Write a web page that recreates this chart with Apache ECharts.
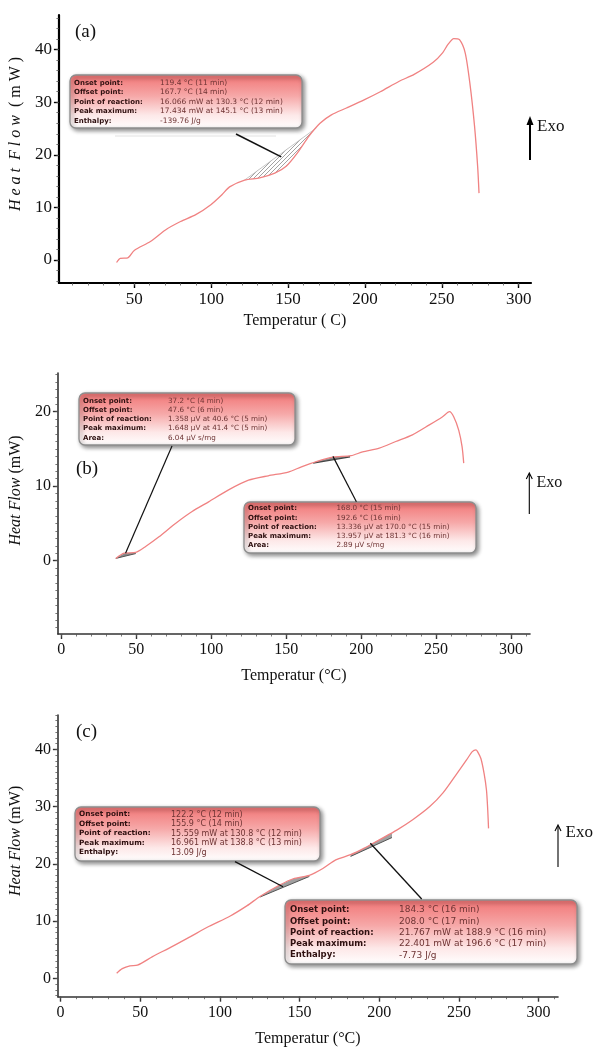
<!DOCTYPE html>
<html><head><meta charset="utf-8">
<script src="https://cdn.jsdelivr.net/npm/echarts@6/dist/echarts.min.js"></script>
<style>html,body{margin:0;padding:0;background:#fff}#c{width:595px;height:1050px}</style>
</head><body><div id="c"></div><script>
// ---------------- DATA ----------------
const tempA = [38.5,40.9,45.8,50,60.5,70.3,80.1,90,99.8,107,112,121.8,131.6,141.4,148.8,156,163.5,170.8,178.2,188,199.8,210,222.3,232,244.4,250.5,254,257.8,261.5,265.2,268.3,271.3,273.3,274.2];
const heatA = [-0.5,0.3,0.4,1.8,3.5,5.7,7.3,8.6,10.5,12.4,13.9,15.2,15.6,16.5,17.8,20.3,23.5,26,27.6,28.9,30.5,32,34,35.3,37.6,39.4,41.0,42.1,41.9,39.4,33.5,25.4,17.8,12.7];

const tempB = [36.4,42.0,49.7,56.3,65.2,76.2,87.3,98.3,111.6,124.9,138.1,151.4,160.2,170.1,181.2,193.3,201,212.1,223.1,234.2,245.2,254.1,258.9,261.8,265.1,267.3,268.4];
const heatB = [0.3,1.0,1.1,1.9,3.2,5.0,6.6,7.9,9.5,10.8,11.4,11.9,12.6,13.3,13.9,14.1,14.6,15.1,16.0,16.9,18.2,19.3,20.0,19.3,17.5,15.3,13.1];

const tempC = [35.2,38.7,43.5,48.2,57.7,69.6,81.5,93.3,106.5,117.1,125.1,137.5,146,156.1,164.6,172.7,182,190.3,200,211,221,231.7,240,248.3,254.9,258.4,260.7,261.7,263.8,265.8,267.3,268.1,268.6];
const heatC = [0.9,1.7,2.2,2.3,3.8,5.5,7.3,9.1,10.9,12.7,14.3,16.3,17.4,18.0,19.2,20.7,21.6,22.7,24.2,25.9,27.7,30.0,32.4,35.6,38.2,39.6,39.9,39.6,38.4,35.8,32.9,29.4,26.2];

// tick labels
const xTicksA = [50,100,150,200,250,300];
const xTicksBC = [0,50,100,150,200,250,300];
const yTicksA = [0,10,20,30,40];
const yTicksB = [0,10,20];
const yTicksC = [0,10,20,30,40];

// baselines of the integrated events [x0,y0,x1,y1]
const baseA = [121.8,15.2,168.4,25.1];
const baseB1 = [36.4,0.3,49.7,0.95];
const baseB2 = [168.0,13.1,192.6,13.95];
const baseC1 = [125.1,14.2,156.1,17.8];
const baseC2 = [182.0,21.3,208.0,24.6];

// leader targets (peak maxima, data units)
const peakA = [145.6,19.6];
const peakB1 = [42.9,1.0];
const peakB2 = [181.2,14.0];
const peakC1 = [139.6,16.0];
const peakC2 = [194.4,23.6];

// annotation texts
const boxLabelsH = ['Onset point:','Offset point:','Point of reaction:','Peak maximum:','Enthalpy:'];
const boxLabelsA2 = ['Onset point:','Offset point:','Point of reaction:','Peak maximum:','Area:'];
const boxValsA = ['119.4 °C (11 min)','167.7 °C (14 min)','16.066 mW at 130.3 °C (12 min)','17.434 mW at 145.1 °C (13 min)','-139.76 J/g'];
const boxValsB1 = ['37.2 °C (4 min)','47.6 °C (6 min)','1.358 µV at 40.6 °C (5 min)','1.648 µV at 41.4 °C (5 min)','6.04 µV s/mg'];
const boxValsB2 = ['168.0 °C (15 min)','192.6 °C (16 min)','13.336 µV at 170.0 °C (15 min)','13.957 µV at 181.3 °C (16 min)','2.89 µV s/mg'];
const boxValsC1 = ['122.2 °C (12 min)','155.9 °C (14 min)','15.559 mW at 130.8 °C (12 min)','16.961 mW at 138.8 °C (13 min)','13.09 J/g'];
const boxValsC2 = ['184.3 °C (16 min)','208.0 °C (17 min)','21.767 mW at 188.9 °C (16 min)','22.401 mW at 196.6 °C (17 min)','-7.73 J/g'];

// ---------------- CHART ----------------
const SERIF = '"Liberation Serif","DejaVu Serif",serif';
const SANS = '"DejaVu Sans",Verdana,sans-serif';
const CURVE = '#f08282';

function zip(a,b){return a.map((v,i)=>[v,b[i]]);}
function interp(xs,ys,x){
  for(let i=0;i<xs.length-1;i++){ if(x>=xs[i]&&x<=xs[i+1]){const t=(x-xs[i])/(xs[i+1]-xs[i]);return ys[i]+t*(ys[i+1]-ys[i]);} }
  return ys[ys.length-1];
}
function range(a,b,s){const r=[];for(let v=a;v<=b+1e-9;v+=s)r.push(+v.toFixed(3));return r;}

// hatch pattern
const pc=document.createElement('canvas');pc.width=4;pc.height=4;
const pctx=pc.getContext('2d');pctx.strokeStyle='#8a8a8a';pctx.lineWidth=0.8;
pctx.beginPath();pctx.moveTo(0,4);pctx.lineTo(4,0);pctx.moveTo(-1,1);pctx.lineTo(1,-1);pctx.moveTo(3,5);pctx.lineTo(5,3);pctx.stroke();

const grids=[
  {left:55,top:15,width:476,height:268},
  {left:55,top:373,width:475,height:261},
  {left:52.6,top:715,width:505.4,height:281.7}
];

function mainX(gi,min,max,ticks,name,gap,strong,fs){
  return {gridIndex:gi,type:'value',min,max,position:'bottom',
    axisLine:{onZero:false,lineStyle:{color:strong?'#000':'#333',width:strong?2.2:1.6}},
    splitLine:{show:false},
    axisTick:{customValues:ticks,length:5,lineStyle:{color:strong?'#000':'#333',width:1.4}},
    axisLabel:{customValues:ticks,fontFamily:SERIF,fontSize:fs,color:'#111',margin:8},
    name,nameLocation:'middle',nameGap:gap,nameTextStyle:{fontFamily:SERIF,fontSize:16,color:'#111'}};
}
function mainY(gi,min,max,ticks,name,gap,strong,fs,shift){
  return {gridIndex:gi,type:'value',min,max,position:'left',
    axisLine:{onZero:false,lineStyle:{color:strong?'#000':'#333',width:strong?2.2:1.6}},
    splitLine:{show:false},
    axisTick:{customValues:ticks,length:5,lineStyle:{color:strong?'#000':'#333',width:1.4}},
    axisLabel:{customValues:ticks,fontFamily:SERIF,fontSize:fs,color:'#111',margin:7},
    name,nameLocation:'middle',nameGap:gap,nameRotate:90,
    nameTextStyle:{fontFamily:SERIF,fontSize:16,color:'#111',padding:[0,0,0,shift],rich:{i:{fontFamily:SERIF,fontSize:16,fontStyle:'italic',color:'#111'}}}};
}
function minorAxis(gi,min,max,ticks,pos){
  return {gridIndex:gi,type:'value',min,max,position:pos,
    axisLine:{show:false,onZero:false},splitLine:{show:false},axisLabel:{show:false},
    axisTick:{customValues:ticks,length:2.5,lineStyle:{color:'#555',width:0.8}}};
}

const xAxes=[
  mainX(0,1,308,xTicksA,'Temperatur ( C)',30,true,17),
  mainX(1,-2.2,312.6,xTicksBC,'Temperatur (°C)',34,false,16),
  mainX(2,-1.7,312.2,xTicksBC,'Temperatur (°C)',34,false,16),
  minorAxis(0,1,308,range(10,300,10),'bottom'),
  minorAxis(1,-2.2,312.6,range(0,310,10),'bottom'),
  minorAxis(2,-1.7,312.2,range(0,310,10),'bottom')
];
const yAxes=[
  mainY(0,-4.4,46.6,yTicksA,'{i|H e a t  F l o w}  ( m W )',16,true,17,30),
  mainY(1,-9.85,25.2,yTicksB,'{i|Heat Flow} (mW)',14,false,16,26),
  mainY(2,-3.2,46.0,yTicksC,'{i|Heat Flow} (mW)',22,false,16,30),
  minorAxis(0,-4.4,46.6,range(-4,46,2),'left'),
  minorAxis(1,-9.85,25.2,range(-9,25,1),'left'),
  minorAxis(2,-3.2,46.0,range(-3,46,1),'left')
];

function lensSeries(gi,xs,ys,base,fill,stroke,strokeW){
  return {type:'custom',xAxisIndex:gi,yAxisIndex:gi,silent:true,z:1,clip:true,
    data:[base],
    renderItem(params,api){
      const x0=api.value(0),y0=api.value(1),x1=api.value(2),y1=api.value(3);
      const pts=[api.coord([x0,interp(xs,ys,x0)])];
      for(let i=0;i<xs.length;i++){ if(xs[i]>x0&&xs[i]<x1) pts.push(api.coord([xs[i],ys[i]])); }
      pts.push(api.coord([x1,interp(xs,ys,x1)]));
      const b1=api.coord([x1,y1]),b0=api.coord([x0,y0]);
      pts.push(b1,b0);
      return {type:'group',children:[
        {type:'polygon',shape:{points:pts},style:{fill:fill,stroke:null}},
        {type:'line',shape:{x1:b0[0],y1:b0[1],x2:b1[0],y2:b1[1]},style:{stroke:stroke,lineWidth:strokeW}}
      ]};
    }};
}
function curve(gi,xs,ys){
  return {type:'line',xAxisIndex:gi,yAxisIndex:gi,data:zip(xs,ys),showSymbol:false,smooth:0.25,z:3,
    lineStyle:{color:CURVE,width:1.3},silent:true};
}

const series=[
  lensSeries(0,tempA,heatA,baseA,{image:pc,repeat:'repeat'},'#b8b8b8',0.8),
  curve(0,tempA,heatA),
  lensSeries(1,tempB,heatB,baseB1,'#8a8a8a','#555',1),
  lensSeries(1,tempB,heatB,baseB2,'#8a8a8a','#444',1.3),
  curve(1,tempB,heatB),
  lensSeries(2,tempC,heatC,baseC1,'#a0a0a0','#555',1),
  lensSeries(2,tempC,heatC,baseC2,'#a0a0a0','#555',1),
  curve(2,tempC,heatC)
];

const chart=echarts.init(document.getElementById('c'),null,{renderer:'canvas'});
chart.setOption({backgroundColor:'#fff',animation:false,grid:grids,xAxis:xAxes,yAxis:yAxes,series});

// ---------------- ANNOTATIONS ----------------
function box(x,y,w,h,labels,vals,lx,vx,ly0,dy,lfs,vfs){
  const children=[{type:'rect',shape:{x,y,width:w,height:h,r:6},
    style:{fill:new echarts.graphic.LinearGradient(0,0,0,1,[{offset:0,color:'#f17474'},{offset:0.4,color:'#f6a8a8'},{offset:0.75,color:'#fde8e8'},{offset:1,color:'#ffffff'}]),
      stroke:'#8d8d8d',lineWidth:1.3,shadowColor:'rgba(0,0,0,0.45)',shadowBlur:4,shadowOffsetX:2,shadowOffsetY:2}}];
  labels.forEach((t,i)=>{
    children.push({type:'text',style:{text:t,x:lx,y:ly0+i*dy,font:'bold '+lfs+'px '+SANS,fill:'#2e1010',verticalAlign:'middle'}});
    children.push({type:'text',style:{text:vals[i],x:vx,y:ly0+i*dy,font:vfs+'px '+SANS,fill:'#6e3434',verticalAlign:'middle'}});
  });
  return {type:'group',children,z:20};
}
function px(gi,p){return chart.convertToPixel({xAxisIndex:gi,yAxisIndex:gi},p);}
function leader(from,to,w){return {type:'line',shape:{x1:from[0],y1:from[1],x2:to[0],y2:to[1]},style:{stroke:'#111',lineWidth:w},z:15};}
function exo(x,yTop,yBot,tx,ty,bold,fs){
  const els=[{type:'line',shape:{x1:x,y1:yTop+(bold?5:1),x2:x,y2:yBot},style:{stroke:'#000',lineWidth:bold?2:1.1},z:15}];
  if(bold) els.push({type:'polygon',shape:{points:[[x,yTop-1],[x-3.5,yTop+8],[x+3.5,yTop+8]]},style:{fill:'#000'},z:15});
  else els.push({type:'polyline',shape:{points:[[x-3,yTop+6],[x,yTop],[x+3,yTop+6]]},style:{stroke:'#000',lineWidth:1.1,fill:null},z:15});
  els.push({type:'text',style:{text:'Exo',x:tx,y:ty,font:fs+'px '+SERIF,fill:'#111',verticalAlign:'middle'},z:15});
  return els;
}
function tag(t,x,y){return {type:'text',style:{text:t,x,y,font:'19px '+SERIF,fill:'#111',verticalAlign:'middle'},z:15};}

const graphic=[
  tag('(a)',75,32), tag('(b)',76,469), tag('(c)',76,732),
  ...exo(530,117,160,537,127,true,17),
  ...exo(529.3,473,514,536.5,483,false,16),
  ...exo(558,825,867,565.5,833,false,17),
  {type:'line',shape:{x1:115,y1:136,x2:276,y2:136},style:{stroke:'#e2e2e2',lineWidth:1},z:5},
  leader([236,134],px(0,peakA),1.6),
  leader([172,446],px(1,peakB1),1.2),
  leader(px(1,peakB2),[356.4,501.7],1.2),
  leader([235,861.7],px(2,peakC1),1.3),
  leader(px(2,peakC2),[421.7,899],1.3),
  box(70,75,232,53,boxLabelsH,boxValsA,74,160,82.8,9.5,7,7.5),
  box(79,393,216,52,boxLabelsA2,boxValsB1,83,168,401,9.2,7,7.2),
  box(244,502,232,51,boxLabelsA2,boxValsB2,248,336.5,508.5,9.2,7,7.2),
  box(75,807,245,54,boxLabelsH,boxValsC1,79,171,814.5,9.5,7.3,8),
  box(285,900,292,64,boxLabelsH,boxValsC2,290,399,910,11.3,8.5,9)
];
chart.setOption({graphic});
</script></body></html>
